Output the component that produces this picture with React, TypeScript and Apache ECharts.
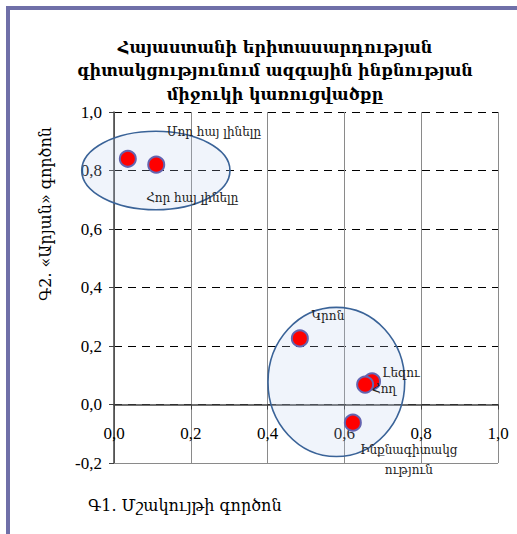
import React, { useEffect, useRef } from "react";
import * as echarts from "echarts";

const titleLines = [
  "Հայաստանի երիտասարդության",
  "գիտակցությունում ազգային ինքնության",
  "միջուկի կառուցվածքը",
];
const xAxisName = "Գ1. Մշակույթի գործոն";
const yAxisName = "Գ2. «Արյան» գործոն";

const pointNames = [
  "Մոր հայ լինելը",
  "Հոր հայ լինելը",
  "Կրոն",
  "Լեզու",
  "Հող",
  "Ինքնագիտակց\nություն",
];
const pointX = [0.036, 0.11, 0.484, 0.672, 0.654, 0.622];
const pointY = [0.84, 0.82, 0.226, 0.079, 0.068, -0.062];

// ellipses: center x, center y, radius x, radius y (data units)
const ellipseCx = [0.109, 0.579];
const ellipseCy = [0.8, 0.077];
const ellipseRx = [0.193, 0.178];
const ellipseRy = [0.134, 0.255];

const labelOffsets: number[][] = [
  [86, -27],
  [36, 33],
  [28, -22],
  [29, -8],
  [19, 4],
  [56, 37],
];

const xTicks = [0, 0.2, 0.4, 0.6, 0.8, 1.0];
const yTicks = [-0.2, 0, 0.2, 0.4, 0.6, 0.8, 1.0];

const fmt = (v: number) => v.toFixed(1).replace(".", ",");

export default function App() {
  const ref = useRef<HTMLDivElement>(null);
  useEffect(() => {
    if (!ref.current) return;
    const chart = echarts.init(ref.current, null, { renderer: "svg" });
    const serif = "'DejaVu Serif', 'Liberation Serif', serif";
    const numFont = "'Liberation Serif', 'DejaVu Serif', serif";
    chart.setOption({
      animation: false,
      backgroundColor: "#ffffff",
      grid: { left: 114, top: 112, width: 384, height: 351, containLabel: false },
      xAxis: {
        type: "value",
        min: xTicks[0],
        max: xTicks[xTicks.length - 1],
        interval: 0.2,
        axisLine: { show: true, onZero: true, lineStyle: { color: "#404040", width: 1.5 } },
        axisTick: { show: true, length: 5, lineStyle: { color: "#404040" } },
        axisLabel: {
          formatter: fmt,
          fontFamily: numFont,
          fontSize: 17,
          color: "#000",
          margin: -38,
        },
        splitLine: { show: true, lineStyle: { color: "#8a8a8a", width: 1, type: "solid" } },
      },
      yAxis: {
        type: "value",
        min: yTicks[0],
        max: yTicks[yTicks.length - 1],
        interval: 0.2,
        axisLine: { show: true, onZero: false, lineStyle: { color: "#404040", width: 1.5 } },
        axisTick: { show: true, length: 5, lineStyle: { color: "#404040" } },
        axisLabel: {
          formatter: fmt,
          fontFamily: numFont,
          fontSize: 17,
          color: "#000",
          margin: 12,
        },
        splitLine: { show: true, lineStyle: { color: "#000", width: 1, type: [8, 6] } },
      },
      graphic: [
        {
          type: "rect",
          shape: { x: 8, y: 8, width: 540, height: 560 },
          style: { fill: "none", stroke: "#6f6fa8", lineWidth: 4 },
          silent: true,
        },
        ...titleLines.map((t, i) => ({
          type: "text",
          x: 275,
          y: 47 + i * 23.5,
          style: {
            text: t,
            fontFamily: serif,
            fontWeight: "bold",
            fontSize: 16,
            fill: "#000",
            align: "center",
            verticalAlign: "middle",
          },
        })),
        {
          type: "text",
          x: 88,
          y: 505,
          style: {
            text: xAxisName,
            fontFamily: serif,
            fontSize: 16,
            fill: "#000",
            align: "left",
            verticalAlign: "middle",
          },
        },
        {
          type: "text",
          x: 45,
          y: 214,
          rotation: Math.PI / 2,
          style: {
            text: yAxisName,
            fontFamily: serif,
            fontSize: 16,
            fill: "#000",
            align: "center",
            verticalAlign: "middle",
          },
        },
      ],
      series: [
        {
          type: "custom",
          coordinateSystem: "cartesian2d",
          silent: true,
          z: 1,
          data: ellipseCx.map((cx, i) => [cx, ellipseCy[i], ellipseRx[i], ellipseRy[i]]),
          renderItem: (params: any, api: any) => {
            const c = api.coord([api.value(0), api.value(1)]);
            const s = api.size([api.value(2), api.value(3)]);
            return {
              type: "ellipse",
              shape: { cx: c[0], cy: c[1], rx: s[0], ry: s[1] },
              style: {
                fill: "rgba(185,205,235,0.22)",
                stroke: "#3a6398",
                lineWidth: 1.6,
              },
            };
          },
        },
        {
          type: "scatter",
          z: 3,
          symbolSize: 16,
          itemStyle: { color: "#ff0000", borderColor: "#6464b0", borderWidth: 2, opacity: 1 },
          data: pointX.map((x, i) => ({
            value: [x, pointY[i]],
            name: pointNames[i],
            label: {
              show: true,
              position: "inside",
              offset: labelOffsets[i],
              formatter: pointNames[i],
              fontFamily: serif,
              fontSize: 12,
              color: "#222",
              align: "center",
              lineHeight: 20,
            },
          })),
          markLine: {
            silent: true,
            symbol: "none",
            label: { show: false },
            lineStyle: { color: "#8a8a8a", type: "solid", width: 1 },
            data: [{ yAxis: yTicks[0] }],
          },
        },
      ],
    });
    return () => chart.dispose();
  }, []);
  return (
    <div
      ref={ref}
      style={{ position: "fixed", left: 0, top: 0, width: 517, height: 534 }}
    />
  );
}
